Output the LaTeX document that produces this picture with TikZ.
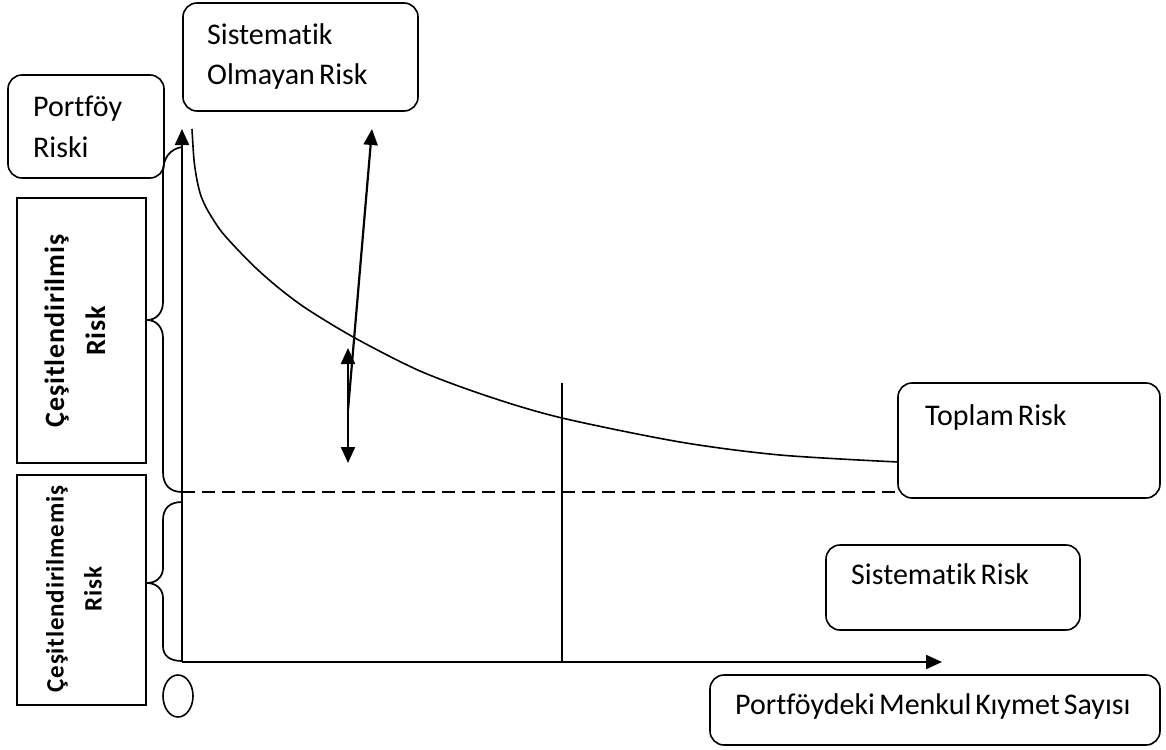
\documentclass[tikz,border=0pt]{standalone}
\usepackage{fontspec}
\setmainfont{Carlito}[Ligatures=NoCommon, WordSpace=0.6]
\newfontfamily\rotfont{Carlito}[Ligatures=NoCommon, LetterSpace=3.2]
\usetikzlibrary{arrows.meta,shapes.geometric}
\tikzset{bigtri/.tip={Triangle[length=16pt,width=14pt]}}
\begin{document}
\begin{tikzpicture}[x=1pt,y=-1pt,
  rbox/.style={draw, line width=1.6pt, rounded corners=14pt, inner sep=0pt},
  sbox/.style={draw, line width=2.2pt, inner sep=0pt},
  lbl/.style={font=\fontsize{30}{40}\selectfont, anchor=base west, inner sep=0pt},
  rotlbl/.style={rotate=90, align=center, inner sep=0pt},
  arr/.style={line width=2.2pt, -bigtri},
  thin/.style={line width=1.6pt},
  brace/.style={line width=1.7pt},
]
\useasboundingbox (0,0) rectangle (1166,749);
% boxes
\node[rbox, minimum width=235, minimum height=108] (sor) at (300.5,57) {};
\node[rbox, minimum width=156, minimum height=103] (pr) at (86,126.5) {};
\node[sbox, minimum width=129, minimum height=265] (cr) at (81.5,330.5) {};
\node[sbox, minimum width=129, minimum height=230] (cmr) at (81.5,590) {};
\node[rbox, minimum width=262, minimum height=115] (tr) at (1029,440.5) {};
\node[rbox, minimum width=254, minimum height=85] (sr) at (953,587.5) {};
\node[rbox, minimum width=450, minimum height=70] (pm) at (935,710) {};
\node[draw, thin, ellipse, minimum width=30, minimum height=42, inner sep=0pt] (el) at (178,696) {};
% texts
\node[lbl] (t1) at (207,45) {Sistematik};
\node[lbl] (t2) at (207,85) {Olmayan Risk};
\node[lbl] (t3) at (33,117) {Portföy};
\node[lbl] (t4) at (33,157) {Riski};
\node[lbl] (t5) at (925,425) {Toplam Risk};
\node[lbl] (t6) at (851,584) {Sistematik Risk};
\node[lbl] (t7) at (735,714) {Portföydeki Menkul Kıymet Sayısı};
\node[rotlbl, font=\rotfont\bfseries\fontsize{28}{41}\selectfont] (t8) at (75,331) {Çeşitlendirilmiş\\Risk};
\node[rotlbl, font=\rotfont\bfseries\fontsize{25}{38}\selectfont] (t9) at (74,589) {Çeşitlendirilmemiş\\Risk};
% axes
\coordinate (O) at (182,662);
\coordinate (ytop) at (182,129);
\coordinate (xend) at (942,662);
\draw[arr] (O) -- (ytop);
\draw[arr] (O) -- (xend);
% total risk curve
\draw[thin] plot[smooth, tension=0.5] coordinates {(192,129) (194,160) (197,180) (201,196) (208,211) (221,231) (238,250) (258,270) (280,289) (307,309) (355,338) (420,371) (490,397) (562,418) (680,442) (780,455) (898,462)};
% dashed systematic level
\coordinate (d1) at (182,492);
\coordinate (d2) at (898,492);
\draw[thin, dash pattern=on 13pt off 7pt] (d1) -- (d2);
% vertical marker
\coordinate (v1) at (562,383);
\coordinate (v2) at (562,662);
\draw[thin] (v1) -- (v2);
% arrows
\coordinate (la1) at (348,410);
\coordinate (la2) at (372,129);
\draw[arr] (la1) -- (la2);
\coordinate (da1) at (348,348);
\coordinate (da2) at (348,463);
\draw[line width=2.2pt, bigtri-bigtri] (da1) -- (da2);
% braces
\draw[brace] (182,147) .. controls (170,149) and (163,158) .. (163,172) -- (163,302)
  .. controls (163,313) and (156,320) .. (147,320)
  .. controls (156,320) and (163,327) .. (163,338) -- (163,472)
  .. controls (163,485) and (170,492) .. (182,492);
\draw[brace] (182,502) .. controls (170,502) and (163,508) .. (163,520) -- (163,568)
  .. controls (163,577) and (156,583) .. (147,583)
  .. controls (156,583) and (163,589) .. (163,598) -- (163,646)
  .. controls (163,656) and (170,661) .. (182,661);
\end{tikzpicture}
\end{document}
